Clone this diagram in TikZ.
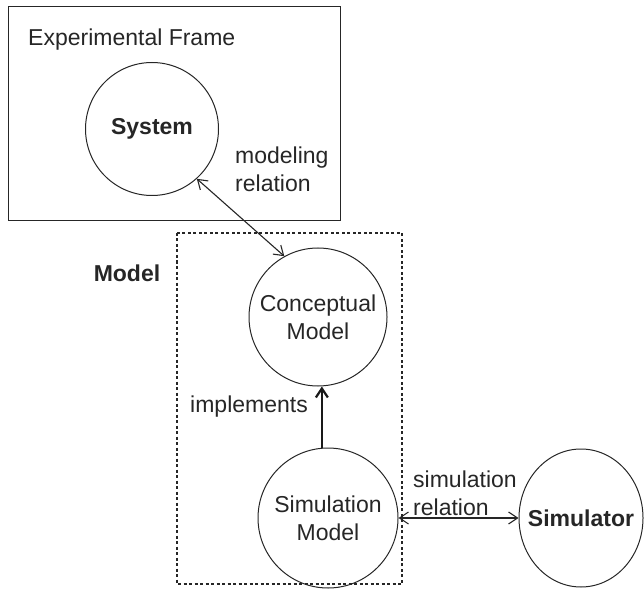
\documentclass[tikz,border=0pt]{standalone}
\usepackage{fontspec}
\setmainfont{Liberation Sans}
\usetikzlibrary{shapes.geometric,arrows.meta}

\begin{document}
\begin{tikzpicture}[x=1pt,y=-1pt,
  ink/.style={draw=black!85, line width=1pt},
  txt/.style={text=black!85, font=\fontsize{23}{28}\selectfont, inner sep=0pt},
  btxt/.style={text=black!85, font=\fontsize{23}{28}\selectfont\bfseries, inner sep=0pt},
  blob/.style={ink, circle, inner sep=0pt, align=center, text=black!85,
               font=\fontsize{23}{28}\selectfont},
  rel/.style={draw=black!85, line width=1.1pt,
              {Straight Barb[length=9pt,width=12pt]}-{Straight Barb[length=9pt,width=12pt]}},
  impl/.style={draw=black!90, line width=2.2pt,
               -{Straight Barb[length=9pt,width=12pt]}}
]
  \useasboundingbox (0,0) rectangle (644,593);

  % experimental frame and model boundary
  \draw[ink] (8,7) rectangle (340,221);
  \draw[ink, dashed, dash pattern=on 3pt off 2.5pt, line width=1.4pt] (177,233) rectangle (402,584);

  \node[txt, anchor=west] (ef) at (28,40) {Experimental Frame};
  \node[btxt] (mlabel) at (127,273) {Model};

  % entities
  \node[blob, minimum size=133pt, font=\fontsize{23}{28}\selectfont\bfseries] (system) at (152,129) {System};
  \node[blob, minimum size=138pt] (concept) at (318,317) {Conceptual\\Model};
  \node[blob, minimum size=140pt] (sim) at (328,518) {Simulation\\Model};
  \node[ink, ellipse, inner sep=0pt, minimum width=124pt, minimum height=138pt,
        label={[btxt]center:Simulator}] (simulator) at (581,518) {};

  % relations
  \draw[rel] (system.-48) -- (concept.119);
  \node[txt, anchor=west, align=left] (modrel) at (235,169) {modeling\\relation};

  \draw[impl] (sim.95) -- (sim.95 |- concept.south);
  \node[txt, anchor=east] (implements) at (308,407) {implements};

  \draw[rel] (sim.east) -- (simulator.west);
  \node[txt, anchor=west, align=left] (simrel) at (413,493) {simulation\\relation};
\end{tikzpicture}
\end{document}
